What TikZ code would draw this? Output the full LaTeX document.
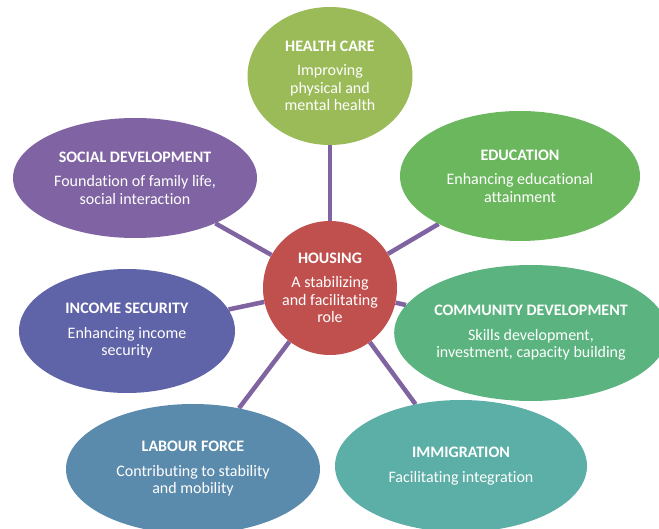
\documentclass[tikz,border=0pt]{standalone}
\usepackage{fontspec}
\setmainfont{Carlito}[Ligatures={NoCommon}]
\usetikzlibrary{shapes.geometric,backgrounds}

\definecolor{spoke}{HTML}{8064A2}
\definecolor{housing}{HTML}{C0504D}
\definecolor{health}{HTML}{9BBB59}
\definecolor{educ}{HTML}{6BB75E}
\definecolor{commun}{HTML}{5BB47F}
\definecolor{immig}{HTML}{5CAFA6}
\definecolor{labour}{HTML}{5B8BAC}
\definecolor{income}{HTML}{5F63A7}
\definecolor{social}{HTML}{7F63A2}

\newcommand{\topic}[2]{\textbf{#1}\\[7pt]#2}

\begin{document}
\begin{tikzpicture}[x=1pt,y=-1pt,font=\fontsize{16}{17.5}\selectfont]
  \tikzstyle{sector}=[ellipse,draw=none,text=white,align=center,inner sep=0pt]
  \tikzstyle{spoke line}=[draw=spoke,line width=4.5pt]

  \useasboundingbox (0,0) rectangle (659,529);

  \node[sector,fill=health,minimum width=165pt,minimum height=138pt] (HC) at (330,76)
    {\topic{HEALTH CARE}{Improving\\physical and\\mental health}};
  \node[sector,fill=educ,minimum width=240pt,minimum height=130pt]  (ED) at (520,176)
    {\topic{EDUCATION}{Enhancing educational\\attainment}};
  \node[sector,fill=commun,minimum width=272pt,minimum height=136pt] (CD) at (531,333)
    {\topic{COMMUNITY DEVELOPMENT}{Skills development,\\investment, capacity building}};
  \node[sector,fill=immig,minimum width=252pt,minimum height=132pt] (IM) at (461,466)
    {\topic{IMMIGRATION}{Facilitating integration}};
  \node[sector,fill=labour,minimum width=254pt,minimum height=130pt] (LF) at (193,469)
    {\topic{LABOUR FORCE}{Contributing to stability\\and mobility}};
  \node[sector,fill=income,minimum width=216pt,minimum height=124pt] (IS) at (127,331)
    {\topic{INCOME SECURITY}{Enhancing income\\security}};
  \node[sector,fill=social,minimum width=244pt,minimum height=120pt] (SD) at (135,178)
    {\topic{SOCIAL DEVELOPMENT}{Foundation of family life,\\social interaction}};
  \node[sector,circle,fill=housing,minimum size=134pt] (HO) at (330,288)
    {\topic{HOUSING}{A stabilizing\\and facilitating\\role}};

  % spokes sit behind the bubbles
  \begin{scope}[on background layer]
    \path[spoke line] (HO) edge (HC)
                           edge (ED)
                           edge (CD)
                           edge (IM)
                           edge (LF)
                           edge (IS)
                           edge (SD);
  \end{scope}
\end{tikzpicture}
\end{document}
